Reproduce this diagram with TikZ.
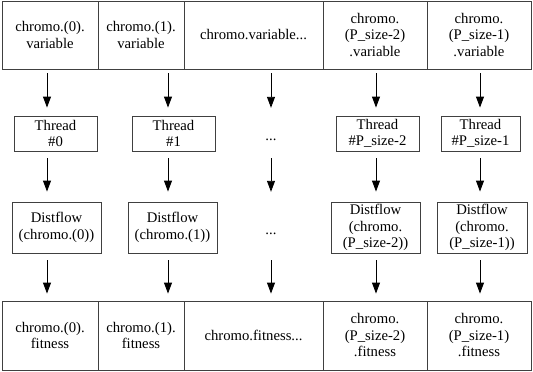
\documentclass[tikz,border=0pt]{standalone}
\usepackage{fontspec}
\setmainfont{Liberation Serif}
\usetikzlibrary{arrows.meta}
\begin{document}
\begin{tikzpicture}[x=1pt,y=-1pt,
 box/.style={draw=black!75, line width=0.9pt, inner sep=0pt, align=center, font=\fontsize{14.7}{16.5}\selectfont},
 lbl/.style={inner sep=0pt, align=center, font=\fontsize{14.7}{16.5}\selectfont},
 arr/.style={line width=0.9pt, -{Triangle[length=11pt,width=8pt]}}]
\fill[white] (0,0) rectangle (533,372);
\useasboundingbox (0,0) rectangle (533,372);
% top row
\node[box, minimum width=96pt, minimum height=68pt] (top0) at (50,35) {chromo.(0).\\variable};
\node[box, minimum width=86pt, minimum height=68pt] (top1) at (141,35) {chromo.(1).\\variable};
\node[box, minimum width=139pt, minimum height=68pt] (top2) at (253.5,35) {chromo.variable...};
\node[box, minimum width=104pt, minimum height=68pt] (top3) at (375,35) {chromo.\\(P\_size-2)\\.variable};
\node[box, minimum width=104pt, minimum height=68pt] (top4) at (479,35) {chromo.\\(P\_size-1)\\.variable};
% thread row
\node[box, minimum width=83pt, minimum height=35pt] (thr0) at (55.5,133.5) {Thread\\\#0};
\node[box, minimum width=83pt, minimum height=35pt] (thr1) at (173.5,133.5) {Thread\\\#1};
\node[lbl, minimum height=35pt] (thr2) at (271,133.5) {\raisebox{-6.5pt}[0pt][0pt]{...}};
\node[box, minimum width=83pt, minimum height=35pt] (thr3) at (377.5,133.5) {Thread\\\#P\_size-2};
\node[box, minimum width=79pt, minimum height=35pt] (thr4) at (480.5,133.5) {Thread\\\#P\_size-1};
% distflow row
\node[box, minimum width=89pt, minimum height=51pt] (dis0) at (56.5,227.5) {Distflow\\(chromo.(0))};
\node[box, minimum width=89pt, minimum height=51pt] (dis1) at (172.5,227.5) {Distflow\\(chromo.(1))};
\node[lbl, minimum height=51pt] (dis2) at (271,227.5) {\raisebox{-6.5pt}[0pt][0pt]{...}};
\node[box, minimum width=89pt, minimum height=51pt] (dis3) at (375.5,227.5) {Distflow\\(chromo.\\(P\_size-2))};
\node[box, minimum width=90pt, minimum height=51pt] (dis4) at (482,227.5) {Distflow\\(chromo.\\(P\_size-1))};
% bottom row
\node[box, minimum width=96pt, minimum height=69pt] (bot0) at (50,335.5) {chromo.(0).\\fitness};
\node[box, minimum width=86pt, minimum height=69pt] (bot1) at (141,335.5) {chromo.(1).\\fitness};
\node[box, minimum width=139pt, minimum height=69pt] (bot2) at (253.5,335.5) {chromo.fitness...};
\node[box, minimum width=104pt, minimum height=69pt] (bot3) at (375,335.5) {chromo.\\(P\_size-2)\\.fitness};
\node[box, minimum width=104pt, minimum height=69pt] (bot4) at (479,335.5) {chromo.\\(P\_size-1)\\.fitness};
% arrow columns
\coordinate (a0) at (47,0);
\coordinate (a1) at (168,0);
\coordinate (a2) at (271,0);
\coordinate (a3) at (376,0);
\coordinate (a4) at (480,0);
\foreach \i in {0,...,4}{
  \draw[arr, shorten <=4pt, shorten >=8pt] (top\i.south -| a\i) -- (thr\i.north -| a\i);
  \draw[arr, shorten <=7pt, shorten >=10pt] (thr\i.south -| a\i) -- (dis\i.north -| a\i);
  \draw[arr, shorten <=7pt, shorten >=7pt] (dis\i.south -| a\i) -- (bot\i.north -| a\i);
}
\end{tikzpicture}
\end{document}
